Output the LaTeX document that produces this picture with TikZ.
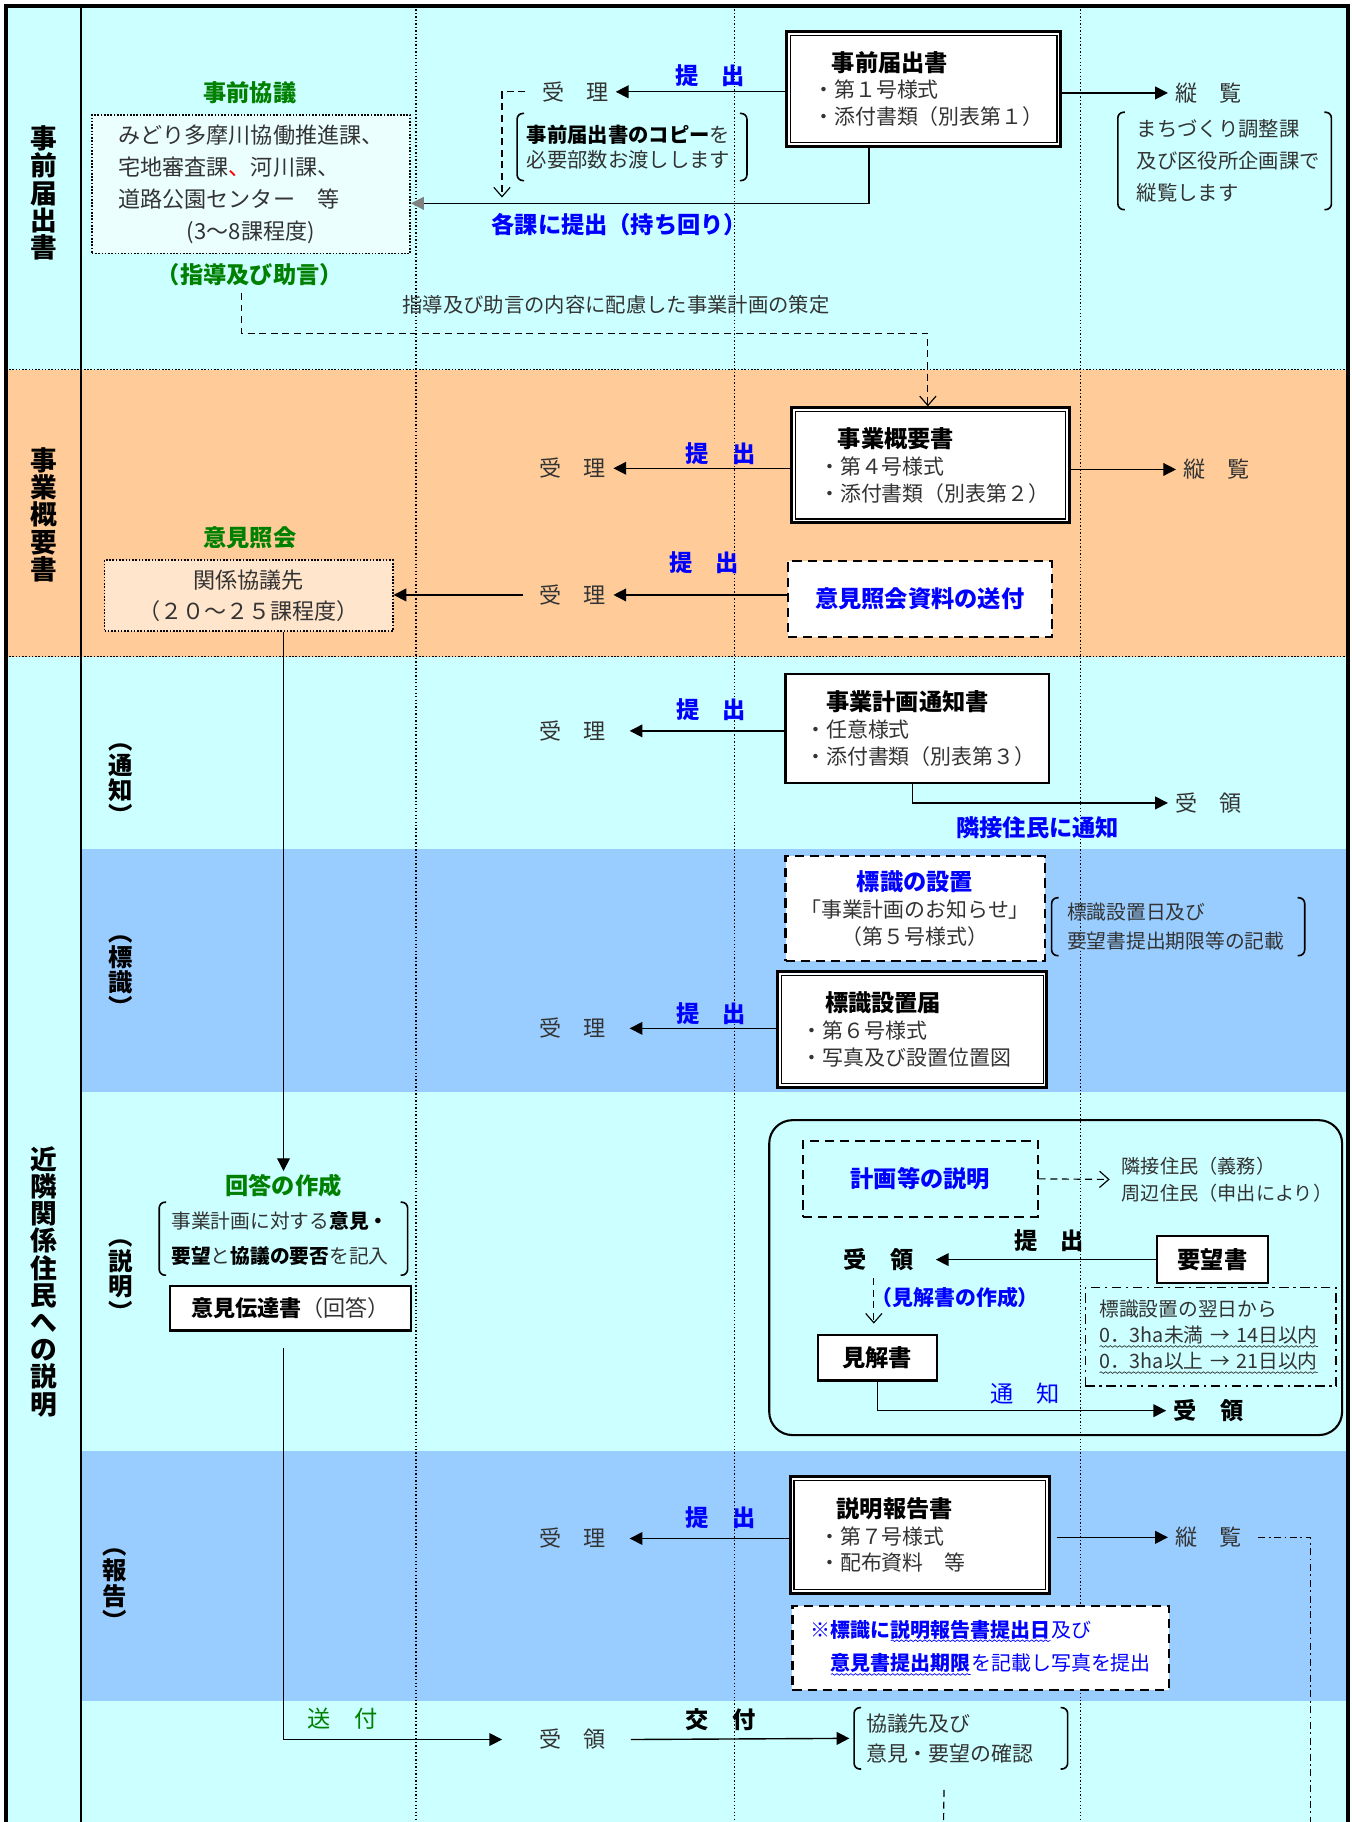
\documentclass[tikz,border=0pt]{standalone}
\usepackage{fontspec}
\setmainfont{Noto Sans CJK JP}
\usetikzlibrary{arrows.meta,calc,decorations.pathmorphing}
\definecolor{cyanbg}{HTML}{CCFFFF}
\definecolor{orbg}{HTML}{FFCC99}
\definecolor{blbg}{HTML}{99CCFF}
\definecolor{jblue}{HTML}{0000FF}
\definecolor{jgreen}{HTML}{008000}
\definecolor{txtc}{HTML}{333333}
\definecolor{lightor}{HTML}{FFE5CC}
\definecolor{lightcy}{HTML}{EBFFFF}
\newcommand\ttl{\fontsize{10}{12}\selectfont\bfseries\color{black}}
\newcommand\wv[1]{\setbox0=\hbox{#1}\edef\wvw{\the\wd0}\leavevmode\rlap{#1}\tikz[baseline=1.6pt]{\draw[solid, line width=0.3pt, decorate, decoration={snake, amplitude=0.35pt, segment length=2pt}] (0pt,0pt) -- (\wvw,0pt);}}
\newcommand\mybrk[1]{%
  \draw[line width=0.7pt, rounded corners=2.5pt] ([xshift=3pt]#1.north west) -- (#1.north west) -- (#1.south west) -- ([xshift=3pt]#1.south west);
  \draw[line width=0.7pt, rounded corners=2.5pt] ([xshift=-3pt]#1.north east) -- (#1.north east) -- (#1.south east) -- ([xshift=-3pt]#1.south east);}
\begin{document}
\begin{tikzpicture}[x=0.5pt,y=-0.5pt,
  every node/.style={inner sep=1pt, text=txtc},
  nt/.style={font=\fontsize{9.5}{13.5}\selectfont},
  sm/.style={font=\fontsize{9}{11.5}\selectfont},
  blu/.style={text=jblue, font=\fontsize{10}{12}\selectfont\bfseries},
  grn/.style={text=jgreen, font=\fontsize{10}{12}\selectfont\bfseries},
  bigv/.style={text=black, font=\fontsize{11.5}{11.7}\selectfont\bfseries, align=center},
  subv/.style={text=black, font=\fontsize{10.5}{10.8}\selectfont\bfseries, align=center},
  docbox/.style={draw=black, fill=white, line width=1.3pt, align=left, inner ysep=1pt, font=\fontsize{9}{11.5}\selectfont},
  sbox/.style={draw=black, fill=white, line width=0.9pt},
  dbox/.style={draw=black, line width=0.9pt, dash pattern=on 4pt off 2.5pt},
  pbox/.style={draw=black, line width=0.7pt, dash pattern=on 0.7pt off 0.7pt},
  ddbox/.style={draw=black, line width=0.7pt, dash pattern=on 4pt off 2pt on 1pt off 2pt},
  brkn/.style={align=left, inner ysep=2pt, anchor=west},
  arr/.style={line width=0.6pt, -{Triangle[length=5.5pt,width=5.5pt]}},
  oarr/.style={line width=0.5pt, dash pattern=on 3pt off 2pt, -{Straight Barb[length=4pt,width=7pt]}},
  juri/.style={nt, inner sep=3pt},
  bk/.style={text=black, font=\fontsize{10}{12}\selectfont\bfseries, inner sep=3pt},
  gridln/.style={line width=0.5pt, dash pattern=on 0.6pt off 0.9pt},
  hdiv/.style={line width=0.7pt, dash pattern=on 0.7pt off 0.7pt},
  ddline/.style={line width=0.5pt, dash pattern=on 3pt off 1.5pt on 0.8pt off 1.5pt}]
\useasboundingbox (0,0) rectangle (1163,1568);
% backgrounds
\fill[cyanbg] (5,5) rectangle (1160,318);
\fill[orbg] (5,318) rectangle (1160,565);
\fill[cyanbg] (5,565) rectangle (1160,1568);
\fill[blbg] (70,731) rectangle (1160,940);
\fill[blbg] (70,1249) rectangle (1160,1464);
% grid
\foreach \gx in {358,632,930} \draw[gridln] (\gx,5) -- (\gx,1568);
\draw[hdiv] (5,318) -- (1160,318);
\draw[hdiv] (5,565) -- (1160,565);
\draw[line width=0.9pt] (70,5) -- (70,1568);
\draw[line width=1.8pt] (5,1568) -- (5,5) -- (1160,5) -- (1160,1568);

% section labels
\node[bigv] (L1) at (38,166) {事\\前\\届\\出\\書};
\node[bigv] (L2) at (38,443) {事\\業\\概\\要\\書};
\node[bigv] (L3) at (38,1103) {近\\隣\\関\\係\\住\\民\\へ\\の\\説\\明};
\node[subv] (S1) at (104,675) {︵\\通\\知\\︶};
\node[subv] (S2) at (104,840) {︵\\標\\識\\︶};
\node[subv] (S3) at (104,1102) {︵\\説\\明\\︶};
\node[subv] (S4) at (99,1368) {︵\\報\\告\\︶};

% ===== section 1 =====
\node[grn] (kyogi) at (215,80) {事前協議};
\node[pbox, fill=lightcy, minimum width=137pt, minimum height=59.5pt, align=left, font=\fontsize{9.5}{13.8}\selectfont] (p1) at (216,158.5)
  {みどり多摩川協働推進課、\\宅地審査課\textcolor{red}{、}河川課、\\道路公園センター　等\\\hspace*{3.1em}(3〜8課程度)};
\node[grn] (jogen) at (215,236) {（指導及び助言）};
\node[font=\fontsize{8.75}{10}\selectfont] (sakutei) at (530,262) {指導及び助言の内容に配慮した事業計画の策定};
\coordinate (hp) at (500,287);
\node[docbox, inner xsep=11.5pt, text width=95pt, minimum height=49.5pt] (b1) at (795,76.5)
  {\hspace*{8pt}{\ttl 事前届出書}\\・第１号様式\\・添付書類（別表第１）};
\node[juri] (juri1) at (495,79) {受　理};
\node[blu] (tei1) at (611,65) {提　出};
\coordinate (cp1) at (432,170);
\node[brkn, inner xsep=4pt, text width=90.5pt, minimum height=28.5pt, font=\fontsize{8.75}{10.5}\selectfont] (k1) at (445,126.5)
  {{\bfseries\color{black}事前届出書のコピー}を\\必要部数お渡しします};
\node[blu] (kaka) at (533,193) {各課に提出（持ち回り）};
\node[juri] (jur1) at (1040,80) {縦　覧};
\node[brkn, inner xsep=8pt, text width=75.5pt, minimum height=41.5pt, font=\fontsize{8.75}{13.75}\selectfont] (k2) at (962,138.5)
  {まちづくり調整課\\及び区役所企画課で\\縦覧します};

% ===== section 2 =====
\node[docbox, inner xsep=12pt, text width=95.5pt, minimum height=49.5pt] (b2) at (800.5,400.5)
  {\hspace*{8pt}{\ttl 事業概要書}\\・第４号様式\\・添付書類（別表第２）};
\node[juri] (juri2) at (493,403) {受　理};
\node[blu] (tei2) at (620,390) {提　出};
\node[juri] (jur2) at (1047,404) {縦　覧};
\node[grn] (shokai) at (215,463) {意見照会};
\node[pbox, fill=lightor, minimum width=124pt, minimum height=30.5pt, align=center, font=\fontsize{9.5}{13.5}\selectfont] (p2) at (214,512.5)
  {関係協議先\\（２０〜２５課程度）};
\node[dbox, blu, fill=white, minimum width=113.5pt, minimum height=32.5pt] (d1) at (791.5,515.5) {意見照会資料の送付};
\node[juri] (juri3) at (493,512) {受　理};
\node[blu] (tei3) at (606,484) {提　出};

% ===== 通知 =====
\node[docbox, line width=1pt, inner xsep=8.5pt, text width=96.5pt, minimum height=47pt] (b3) at (789.5,627)
  {\hspace*{9pt}{\ttl 事業計画通知書}\\・任意様式\\・添付書類（別表第３）};
\node[juri] (juri4) at (493,629) {受　理};
\node[blu] (tei4) at (612,611) {提　出};
\node[juri] (ryou1) at (1040,691) {受　領};
\node[blu] (rinsetsu) at (893,712) {隣接住民に通知};

% ===== 標識 =====
\node[dbox, sm, fill=white, minimum width=111.5pt, minimum height=45pt, align=center] (d2) at (787.5,782)
  {{\color{jblue}\fontsize{10}{12}\selectfont\bfseries 標識の設置}\\「事業計画のお知らせ」\\（第５号様式）};
\node[brkn, inner xsep=6.5pt, text width=95.5pt, minimum height=24.5pt, font=\fontsize{8.5}{12.5}\selectfont] (k3) at (905,797.5)
  {標識設置日及び\\要望書提出期限等の記載};
\node[docbox, inner xsep=10.5pt, text width=95pt, minimum height=50pt] (b4) at (785,886)
  {\hspace*{10pt}{\ttl 標識設置届}\\・第６号様式\\・写真及び設置位置図};
\node[juri] (juri5) at (493,885) {受　理};
\node[blu] (tei5) at (612,872) {提　出};

% ===== 説明 =====
\node[grn] (kaito) at (244,1020) {回答の作成};
\node[brkn, inner xsep=5pt, text width=96.5pt, minimum height=31pt, font=\fontsize{8.5}{15}\selectfont] (k4) at (137,1066)
  {事業計画に対する{\bfseries\color{black}意見・}\\{\bfseries\color{black}要望}と{\bfseries\color{black}協議の要否}を記入};
\node[sbox, nt, minimum width=104pt, minimum height=19pt] (s1) at (250,1126) {{\bfseries\color{black}意見伝達書}（回答）};
\draw[line width=0.9pt, rounded corners=10pt] (662,964) rectangle (1155,1235);
\node[dbox, blu, minimum width=101pt, minimum height=32.5pt] (d3) at (792,1014.5) {計画等の説明};
\node[anchor=west, align=left, font=\fontsize{8.25}{11.5}\selectfont] (jumin) at (963,1015) {隣接住民（義務）\\周辺住民（申出により）};
\node[sbox, bk, inner sep=1pt, minimum width=47.5pt, minimum height=20pt] (s2) at (1043.5,1084) {要望書};
\node[bk] (ryou3) at (756,1084) {受　領};
\node[bk] (tei6) at (903,1068) {提　出};
\node[blu, font=\fontsize{9}{11}\selectfont\bfseries] (kenkai) at (822,1117) {（見解書の作成）};
\node[sbox, bk, inner sep=1pt, minimum width=51pt, minimum height=19.5pt] (s3) at (755,1168.5) {見解書};
\node[ddbox, align=left, inner xsep=6pt, text width=96pt, minimum height=42.5pt, font=\fontsize{8.5}{11.25}\selectfont] (dd1) at (1042,1150.5)
  {標識設置の翌日から\\\wv{0．3ha未満 → 14日以内}\\\wv{0．3ha以上 → 21日以内}};
\node[text=jblue, font=\fontsize{10}{12}\selectfont] (tsuchi2) at (882,1199) {通　知};
\node[bk] (ryou4) at (1040,1214) {受　領};

% ===== 報告 =====
\node[docbox, inner xsep=12.5pt, text width=86.5pt, minimum height=50pt] (b5) at (791.5,1321)
  {\hspace*{7.5pt}{\ttl 説明報告書}\\・第７号様式\\・配布資料　等};
\node[juri] (juri6) at (493,1324) {受　理};
\node[blu] (tei7) at (620,1306) {提　出};
\node[juri] (jur3) at (1040,1323) {縦　覧};
\node[dbox, fill=white, minimum width=162pt, minimum height=36pt, align=left, text=jblue, font=\fontsize{8.6}{14.5}\selectfont] (d4) at (844,1418)
  {{\bfseries ※標識に}{\bfseries\wv{説明報告書提出日}}及び\\\hspace*{1em}{\bfseries\wv{意見書提出期限}}を記載し写真を提出};

% ===== bottom =====
\node[text=jgreen, font=\fontsize{10}{12}\selectfont] (sofu) at (295,1479) {送　付};
\node[juri] (ryou2) at (493,1497) {受　領};
\node[bk] (kofu) at (620,1480) {交　付};
\node[brkn, inner xsep=5pt, text width=81.5pt, minimum height=26pt, font=\fontsize{9}{13}\selectfont] (k5) at (735,1496)
  {協議先及び\\意見・要望の確認};
\coordinate (k5end) at (812,1568);
\coordinate (ddend) at (1128,1568);

% double borders
\foreach \n in {b1,b2,b4,b5}
  \draw[line width=0.5pt] ([shift={(2.3pt,2.3pt)}]\n.south west) rectangle ([shift={(-2.3pt,-2.3pt)}]\n.north east);
% brackets
\mybrk{k1}\mybrk{k2}\mybrk{k3}\mybrk{k4}\mybrk{k5}

% ===== connectors =====
\draw[arr] (juri1.east -| b1.west) -- (juri1.east);
\draw[oarr] ([xshift=-4pt]juri1.west) -| (cp1);
\draw[line width=0.6pt, -{Triangle[length=5.5pt,width=5.5pt,color=gray]}] ([xshift=-23.5pt]b1.south) |- ([yshift=-8.25pt]p1.east);
\draw[arr] (jur1.west -| b1.east) -- (jur1.west);
\draw[oarr] ([xshift=-3.5pt,yshift=-2pt]jogen.south) |- (hp) -| ([xshift=-1pt]b2.north);

\draw[arr] (juri2.east -| b2.west) -- (juri2.east);
\draw[arr] (jur2.west -| b2.east) -- (jur2.west);
\draw[arr] (juri3.east -| d1.west) -- (juri3.east);
\draw[arr] ([xshift=-4pt]juri3.west) -- (juri3.west -| p2.east);

\draw[arr] (juri4.east -| b3.west) -- ([xshift=7pt]juri4.east);
\draw[arr] ([xshift=-2pt]b3.south) |- (ryou1.west);

\draw[arr] (juri5.east -| b4.west) -- ([xshift=7pt]juri5.east);

\draw[arr] (kaito.north |- p2.south) -- (kaito.north);
\draw[arr] ([xshift=-3pt,yshift=-7pt]s1.south) |- ([xshift=-13pt]ryou2.west);
\draw[oarr] (d3.east) -- ([xshift=-4pt]jumin.west);
\draw[arr] (ryou3.east -| s2.west) -- ([xshift=6.5pt]ryou3.east);
\draw[oarr] ([xshift=-2pt]ryou3.south) -- ([xshift=-1.5pt,yshift=4.5pt]s3.north);
\draw[arr] (s3.south) |- (ryou4.west);

\draw[arr] (juri6.east -| b5.west) -- ([xshift=7pt]juri6.east);
\draw[arr] ([xshift=2.5pt]jur3.west -| b5.east) -- (jur3.west);
\draw[ddline] ([xshift=4pt]jur3.east) -| (ddend);

\draw[arr] ([xshift=7.5pt]ryou2.east) -- ([xshift=-2pt]k5.west);
\draw[line width=0.5pt, dash pattern=on 3pt off 2pt] ([xshift=-7.25pt,yshift=-9pt]k5.south) -- (k5end);
\end{tikzpicture}
\end{document}
